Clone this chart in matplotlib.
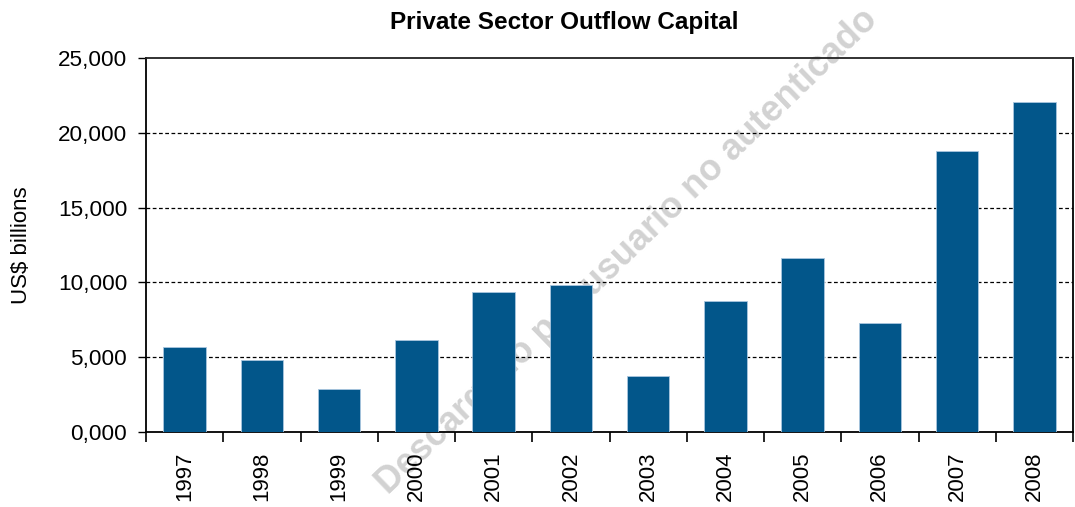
import numpy as np
import matplotlib.pyplot as plt
from matplotlib.ticker import FixedLocator

# Private sector outflow capital, US$ billions
years = ['1997', '1998', '1999', '2000', '2001', '2002',
         '2003', '2004', '2005', '2006', '2007', '2008']
outflow = [5690, 4830, 2890, 6130, 9360, 9800,
           3730, 8730, 11650, 7310, 18800, 22050]
ytick_vals = [0, 5000, 10000, 15000, 20000, 25000]
ytick_labels = ['0,000', '5,000', '10,000', '15,000', '20,000', '25,000']

plt.rcParams['font.family'] = ['Liberation Sans', 'DejaVu Sans']

fig = plt.figure(figsize=(10.75, 5.07), dpi=100)
ax = fig.add_axes([146/1075, 75/507, 927/1075, 374/507])
ax.set_facecolor('none')

x = np.arange(len(years))
ax.bar(x, outflow, width=0.55, color='#02568a', edgecolor='#a9c6df',
       linewidth=0.6, zorder=3)

ax.set_xlim(-0.5, len(years) - 0.5)
ax.set_ylim(0, 25000)

# y axis
ax.set_yticks(ytick_vals)
ax.set_yticklabels(ytick_labels, fontsize=16.2)
ax.tick_params(axis='y', direction='out', length=5.5, width=1, pad=8)
for v in ytick_vals[1:-1]:
    ax.axhline(v, color='black', linestyle=(0, (3, 2)), linewidth=0.9, zorder=1)

# x axis: labels at centers, ticks at boundaries
ax.set_xticks(x)
ax.set_xticklabels(years, rotation=90, fontsize=16)
ax.tick_params(axis='x', which='major', length=0, pad=14)
ax.xaxis.set_minor_locator(FixedLocator(np.arange(-0.5, len(years), 1.0)))
ax.tick_params(axis='x', which='minor', direction='out', length=7, width=1.2)

for side in ['left', 'bottom', 'right']:
    ax.spines[side].set_linewidth(1.3)
    ax.spines[side].set_color('black')
ax.spines['top'].set_linewidth(1.3)
ax.spines['top'].set_color('#222222')

ax.set_ylabel('US$ billions', fontsize=16)
ax.yaxis.set_label_coords(-0.123, 0.5)

fig.text(564/1075, 1 - 23/507, 'Private Sector Outflow Capital',
         fontsize=17.5, fontweight='bold', ha='center', va='center')

# watermark
fig.text(627/1075, 1 - 252/507, 'Descargado por usuario no autenticado',
         fontsize=26, fontweight='bold', color='#d2d2d2', rotation=44,
         ha='center', va='center', zorder=-1)

fig.savefig('out.png', dpi=100)
